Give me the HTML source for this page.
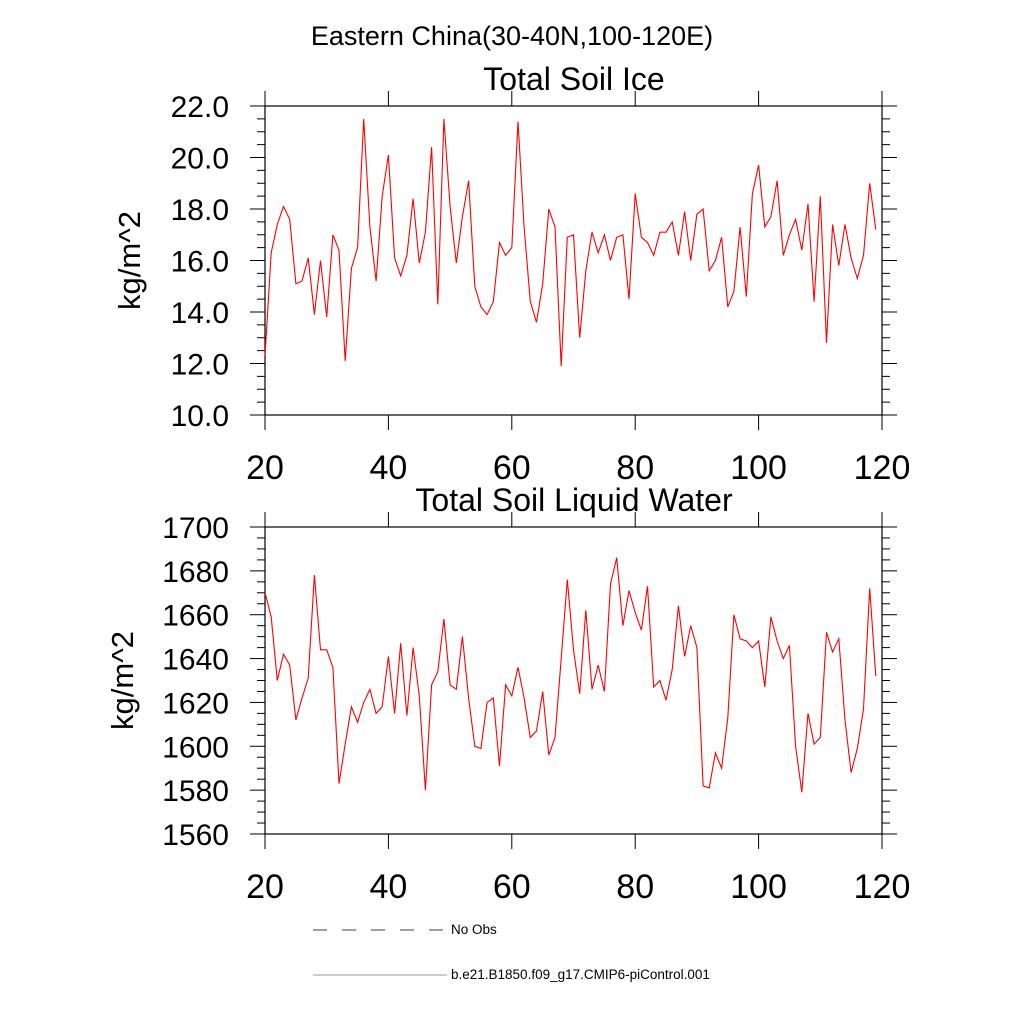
<!DOCTYPE html>
<html><head><meta charset="utf-8"><style>
body{margin:0;background:#fff;}
svg{display:block;font-family:"Liberation Sans",sans-serif;}
</style></head><body>
<svg id="chart" width="1024" height="1024" viewBox="0 0 1024 1024" xmlns="http://www.w3.org/2000/svg">
<text x="512" y="45" font-size="27" text-anchor="middle">Eastern China(30-40N,100-120E)</text>
<g id="p1"></g>
<g id="p2"></g>
<g>
<line x1="313" y1="930" x2="447" y2="930" stroke="#000" stroke-width="0.8" stroke-dasharray="14,15"/>
<text x="451" y="934" font-size="13.5">No Obs</text>
<line x1="313" y1="975" x2="447" y2="975" stroke="#999" stroke-width="1"/>
<text x="451" y="979" font-size="13.5">b.e21.B1850.f09_g17.CMIP6-piControl.001</text>
</g>
</svg>
<script>
const years = [];
for (let y = 20; y <= 119; y++) years.push(y);
const iceValues = [12.3,16.3,17.4,18.1,17.6,15.1,15.2,16.1,13.9,16.0,13.8,17.0,16.4,12.1,15.7,16.5,21.5,17.3,15.2,18.5,20.1,16.1,15.4,16.2,18.4,15.9,17.1,20.4,14.3,21.5,18.1,15.9,17.7,19.1,15.0,14.2,13.9,14.4,16.7,16.2,16.5,21.4,17.3,14.4,13.6,15.1,18.0,17.3,11.9,16.9,17.0,13.0,15.6,17.1,16.3,17.0,16.0,16.9,17.0,14.5,18.6,16.9,16.7,16.2,17.1,17.1,17.5,16.2,17.9,16.0,17.8,18.0,15.6,16.0,16.9,14.2,14.8,17.3,14.6,18.6,19.7,17.3,17.7,19.1,16.2,17.0,17.6,16.4,18.2,14.4,18.5,12.8,17.4,15.8,17.4,16.1,15.3,16.2,19.0,17.2];
const liqValues = [1670,1659,1630,1642,1637,1612,1622,1631,1678,1644,1644,1636,1583,1601,1618,1611,1620,1626,1615,1618,1641,1615,1647,1614,1645,1623,1580,1628,1634,1658,1628,1626,1650,1622,1600,1599,1620,1622,1591,1628,1623,1636,1622,1604,1607,1625,1596,1604,1640,1676,1644,1624,1662,1626,1637,1625,1674,1686,1655,1671,1661,1653,1673,1627,1630,1621,1635,1664,1641,1655,1645,1582,1581,1597,1590,1613,1660,1649,1648,1645,1648,1627,1659,1648,1640,1646,1600,1579,1615,1601,1604,1652,1643,1649,1612,1588,1599,1617,1672,1632];
const xTicks = [20,40,60,80,100,120];
const iceYTicks = [10,12,14,16,18,20,22];
const liqYTicks = [1560,1580,1600,1620,1640,1660,1680,1700];

const NS = "http://www.w3.org/2000/svg";
function mk(parent, tag, attrs){const e=document.createElementNS(NS,tag);for(const k in attrs)e.setAttribute(k,attrs[k]);parent.appendChild(e);return e;}

function panel(g, cfg){
  const L=265,R=882,T=cfg.top,B=cfg.bottom;
  const xs=v=>L+(v-20)/(120-20)*(R-L);
  const ys=v=>B-(v-cfg.ymin)/(cfg.ymax-cfg.ymin)*(B-T);
  const t=mk(g,'text',{x:574,y:T-16,'font-size':32,'text-anchor':'middle'});
  
  
  t.textContent=cfg.title;
  const fr=mk(g,'rect',{x:L,y:T,width:R-L,height:B-T,fill:'none',stroke:'#000','stroke-width':1.2});
  
  
  for(let v=cfg.ymin; v<=cfg.ymax+1e-9; v+=cfg.minor){
    const y=ys(v);
    const isMaj=cfg.yticks.some(m=>Math.abs(m-v)<1e-6);
    const len=isMaj?15:8;
    mk(g,'line',{x1:L-len,y1:y,x2:L,y2:y,stroke:'#000','stroke-width':1});
    mk(g,'line',{x1:R,y1:y,x2:R+len,y2:y,stroke:'#000','stroke-width':1});
  }
  cfg.yticks.forEach(v=>{
    const lb=mk(g,'text',{x:229,y:ys(v)+11,'font-size':30,'text-anchor':'end'});
    
    
    lb.textContent=cfg.fmt(v);
  });
  xTicks.forEach(v=>{
    const x=xs(v);
    mk(g,'line',{x1:x,y1:B,x2:x,y2:B+15,stroke:'#000','stroke-width':1});
    mk(g,'line',{x1:x,y1:T-15,x2:x,y2:T,stroke:'#000','stroke-width':1});
    const lb=mk(g,'text',{x:x,y:B+64,'font-size':34,'text-anchor':'middle'});
    
    
    lb.textContent=v;
  });
  const yt=mk(g,'text',{x:0,y:0,'font-size':31,'text-anchor':'middle',transform:`translate(${cfg.ytx},${(T+B)/2}) rotate(-90)`});
  
  
  yt.textContent='kg/m^2';
  const pts=cfg.values.map((v,i)=>xs(years[i]).toFixed(1)+','+ys(v).toFixed(1)).join(' ');
  const pl=mk(g,'polyline',{points:pts,fill:'none',stroke:'#ff0000','stroke-width':1.1});
  
  
}
const g1=document.getElementById('p1');


const g2=document.getElementById('p2');


panel(g1,{prefix:'ice',title:'Total Soil Ice',top:106,bottom:415,ymin:10,ymax:22,minor:0.5,yticks:iceYTicks,fmt:v=>v.toFixed(1),values:iceValues,ytx:140});
panel(g2,{prefix:'liquid',title:'Total Soil Liquid Water',top:527,bottom:834,ymin:1560,ymax:1700,minor:5,yticks:liqYTicks,fmt:v=>String(v),values:liqValues,ytx:133});
</script>
</body></html>
